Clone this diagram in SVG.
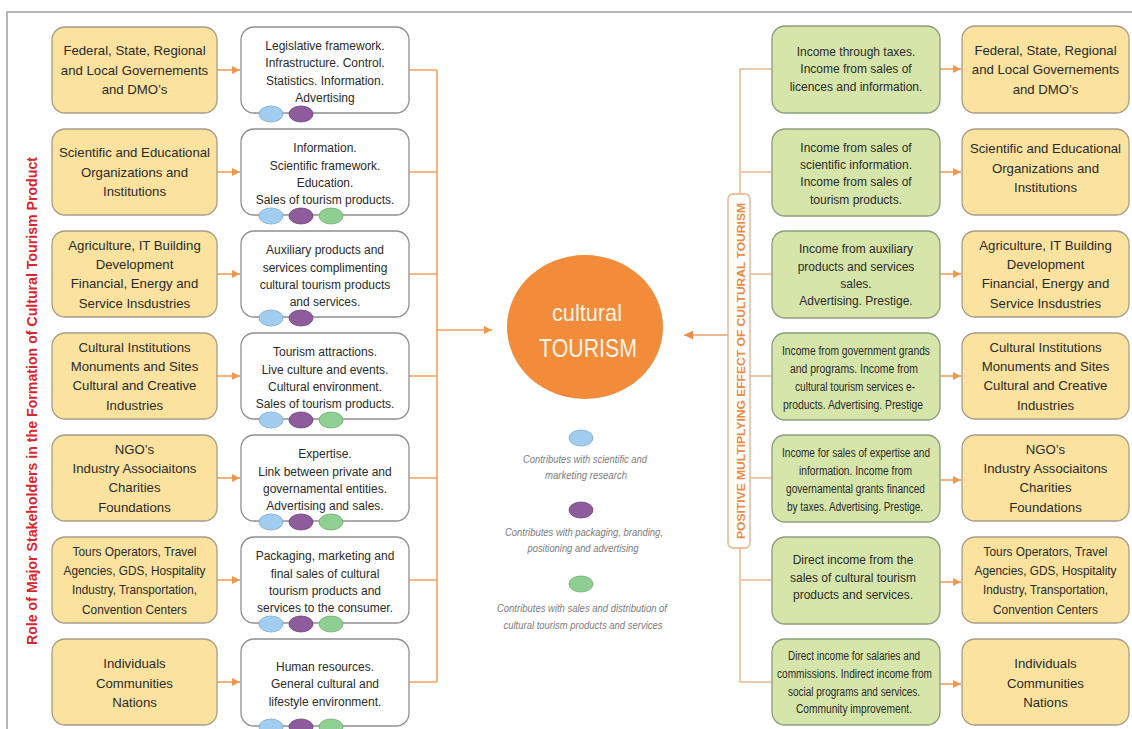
<svg xmlns="http://www.w3.org/2000/svg" width="1132" height="729" viewBox="0 0 1132 729">
  <defs>
    <marker id="arr" viewBox="0 0 10 10" refX="10" refY="5" markerWidth="8" markerHeight="8" markerUnits="userSpaceOnUse" orient="auto">
      <path d="M0,0 L10,5 L0,10 Z" fill="#F0984E"/>
    </marker>
    <marker id="arrL" viewBox="0 0 10 10" refX="10" refY="5" markerWidth="9" markerHeight="9" markerUnits="userSpaceOnUse" orient="auto">
      <path d="M0,0 L10,5 L0,10 Z" fill="#E98E4C"/>
    </marker>
  </defs>
  <style>
    .frame { fill: none; stroke: #A0A0A0; stroke-width: 1.5; }
    .ybox { fill: #FBE29E; stroke: #A89D86; stroke-width: 1.3; }
    .wbox { fill: #FFFFFF; stroke: #8F8F8F; stroke-width: 1.3; }
    .gbox { fill: #D6E5A9; stroke: #8D9B7E; stroke-width: 1.3; }
    .tl { font-family: "Liberation Sans", Arial, sans-serif; font-size: 13.2px; fill: #2A2A2A; text-anchor: middle; }
    .ts { font-family: "Liberation Sans", Arial, sans-serif; font-size: 12px; fill: #2A2A2A; text-anchor: middle; }
    .leg { font-family: "Liberation Sans", Arial, sans-serif; font-size: 11px; font-style: italic; fill: #7C7C7C; text-anchor: middle; }
    .dB { fill: #A2CDEE; stroke: #7FA9CC; stroke-width: 0.8; }
    .dP { fill: #8E5C9C; stroke: #6F4580; stroke-width: 0.8; }
    .dG { fill: #8FCF91; stroke: #6FAE70; stroke-width: 0.8; }
    .lnL { fill: none; stroke: #F2A35E; stroke-width: 1.6; }
    .lnR { fill: none; stroke: #E9B993; stroke-width: 1.5; }
    .ar { fill: none; stroke: #F0A05A; stroke-width: 1.6; marker-end: url(#arr); }
  </style>

  <!-- outer frame -->
  <path class="frame" d="M7,729 L7,12 L1132,12"/>

  <!-- vertical titles -->
  <text transform="translate(37,401) rotate(-90)" text-anchor="middle" font-family="Liberation Sans, Arial, sans-serif" font-size="14" font-weight="bold" fill="#D7262D" textLength="488" lengthAdjust="spacingAndGlyphs">Role of Major Stakeholders in the Formation of Cultural Tourism Product</text>

  <!-- connectors -->
  <g id="connectors">
    <!-- stakeholder -> contribution -->
    <line class="ar" x1="217" y1="70" x2="240" y2="70"/>
    <line class="ar" x1="217" y1="172" x2="240" y2="172"/>
    <line class="ar" x1="217" y1="274" x2="240" y2="274"/>
    <line class="ar" x1="217" y1="376" x2="240" y2="376"/>
    <line class="ar" x1="217" y1="478" x2="240" y2="478"/>
    <line class="ar" x1="217" y1="580" x2="240" y2="580"/>
    <line class="ar" x1="217" y1="682" x2="240" y2="682"/>
    <!-- contributions bus -->
    <path class="lnL" d="M409,70 H437 M409,172 H437 M409,274 H437 M409,376 H437 M409,478 H437 M409,580 H437 M409,682 H437 M437,70 V682"/>
    <line class="ar" x1="437" y1="330" x2="492" y2="330"/>
    <!-- effects bus -->
    <path class="lnR" d="M740,69 V682 M740,69 H772 M740,172 H772 M740,274 H772 M740,376 H772 M740,478 H772 M740,580 H772 M740,682 H772"/>
    <line x1="728" y1="335" x2="684" y2="335" stroke="#E9A070" stroke-width="1.5" marker-end="url(#arrL)"/>
    <!-- income -> beneficiary -->
    <line class="ar" x1="940" y1="69" x2="961" y2="69"/>
    <line class="ar" x1="940" y1="172" x2="961" y2="172"/>
    <line class="ar" x1="940" y1="274" x2="961" y2="274"/>
    <line class="ar" x1="940" y1="376" x2="961" y2="376"/>
    <line class="ar" x1="940" y1="480" x2="961" y2="480"/>
    <line class="ar" x1="940" y1="582" x2="961" y2="582"/>
    <line class="ar" x1="940" y1="684" x2="961" y2="684"/>
  </g>

  <!-- effect label on the right bus -->
  <g id="effect-label">
    <rect x="728" y="194" width="22" height="354" rx="5" fill="#FFFFFF" stroke="#E8AE80" stroke-width="1.3"/>
    <text transform="translate(744.5,371) rotate(-90)" text-anchor="middle" font-family="Liberation Sans, Arial, sans-serif" font-size="11.5" font-weight="bold" fill="#EA8B3E" textLength="336" lengthAdjust="spacingAndGlyphs">POSITIVE MULTIPLYING EFFECT OF CULTURAL TOURISM</text>
  </g>

  <!-- central node -->
  <g id="cultural-tourism">
    <ellipse cx="585" cy="327" rx="78" ry="72" fill="#F28B3A"/>
    <text x="587" y="321" text-anchor="middle" font-family="Liberation Sans, Arial, sans-serif" font-size="24" fill="#FFF4E4" textLength="70" lengthAdjust="spacingAndGlyphs">cultural</text>
    <text x="588" y="357" text-anchor="middle" font-family="Liberation Sans, Arial, sans-serif" font-size="25" fill="#FFF4E4" textLength="98" lengthAdjust="spacingAndGlyphs">TOURISM</text>
  </g>

  <!-- legend -->
  <g id="legend">
    <ellipse class="dB" cx="581" cy="438" rx="12" ry="8"/>
    <text class="leg" x="585" y="462.5" textLength="124" lengthAdjust="spacingAndGlyphs">Contributes with scientific and</text>
    <text class="leg" x="586" y="478.5" textLength="82" lengthAdjust="spacingAndGlyphs">marketing research</text>
    <ellipse class="dP" cx="581" cy="510" rx="12" ry="8"/>
    <text class="leg" x="584" y="535.5" textLength="158" lengthAdjust="spacingAndGlyphs">Contributes with packaging, branding,</text>
    <text class="leg" x="583" y="551.5" textLength="111" lengthAdjust="spacingAndGlyphs">positioning and advertising</text>
    <ellipse class="dG" cx="581" cy="584" rx="12" ry="8"/>
    <text class="leg" x="582" y="611.5" textLength="170" lengthAdjust="spacingAndGlyphs">Contributes with sales and distribution of</text>
    <text class="leg" x="583" y="628.5" textLength="159" lengthAdjust="spacingAndGlyphs">cultural tourism products and services</text>
  </g>

  <!-- stakeholders (left) -->
  <g id="stakeholder-government">
    <rect class="ybox" x="52" y="27" width="165" height="86" rx="13"/>
    <text class="tl" x="134.5" y="55.3">Federal, State, Regional</text>
    <text class="tl" x="134.5" y="74.6">and Local Governements</text>
    <text class="tl" x="134.5" y="93.9">and DMO’s</text>
  </g>
  <g id="stakeholder-science">
    <rect class="ybox" x="52" y="129" width="165" height="86" rx="13"/>
    <text class="tl" x="134.5" y="157.3">Scientific and Educational</text>
    <text class="tl" x="134.5" y="176.6">Organizations and</text>
    <text class="tl" x="134.5" y="195.9">Institutions</text>
  </g>
  <g id="stakeholder-industries">
    <rect class="ybox" x="52" y="231" width="165" height="86" rx="13"/>
    <text class="tl" x="134.5" y="249.6">Agriculture, IT Building</text>
    <text class="tl" x="134.5" y="268.9">Development</text>
    <text class="tl" x="134.5" y="288.2">Financial, Energy and</text>
    <text class="tl" x="134.5" y="307.5">Service Insdustries</text>
  </g>
  <g id="stakeholder-culture">
    <rect class="ybox" x="52" y="333" width="165" height="86" rx="13"/>
    <text class="tl" x="134.5" y="351.6">Cultural Institutions</text>
    <text class="tl" x="134.5" y="370.9">Monuments and Sites</text>
    <text class="tl" x="134.5" y="390.2">Cultural and Creative</text>
    <text class="tl" x="134.5" y="409.5">Industries</text>
  </g>
  <g id="stakeholder-ngo">
    <rect class="ybox" x="52" y="435" width="165" height="86" rx="13"/>
    <text class="tl" x="134.5" y="453.6">NGO’s</text>
    <text class="tl" x="134.5" y="472.9">Industry Associaitons</text>
    <text class="tl" x="134.5" y="492.2">Charities</text>
    <text class="tl" x="134.5" y="511.5">Foundations</text>
  </g>
  <g id="stakeholder-tourism-trade">
    <rect class="ybox" x="52" y="537" width="165" height="86" rx="13"/>
    <text class="tl" x="134.5" y="555.6" textLength="124" lengthAdjust="spacingAndGlyphs">Tours Operators, Travel</text>
    <text class="tl" x="134.5" y="574.9" textLength="142" lengthAdjust="spacingAndGlyphs">Agencies, GDS, Hospitality</text>
    <text class="tl" x="134.5" y="594.2" textLength="125" lengthAdjust="spacingAndGlyphs">Industry, Transportation,</text>
    <text class="tl" x="134.5" y="613.5" textLength="105" lengthAdjust="spacingAndGlyphs">Convention Centers</text>
  </g>
  <g id="stakeholder-people">
    <rect class="ybox" x="52" y="639" width="165" height="86" rx="13"/>
    <text class="tl" x="134.5" y="668.3">Individuals</text>
    <text class="tl" x="134.5" y="687.6">Communities</text>
    <text class="tl" x="134.5" y="706.9">Nations</text>
  </g>

  <!-- contributions (middle) -->
  <g id="contribution-government">
    <rect class="wbox" x="241" y="27" width="168" height="86" rx="13"/>
    <text class="ts" x="325" y="50">Legislative framework.</text>
    <text class="ts" x="325" y="67.4">Infrastructure. Control.</text>
    <text class="ts" x="325" y="84.8">Statistics. Information.</text>
    <text class="ts" x="325" y="102.2">Advertising</text>
    <ellipse class="dB" cx="271" cy="114" rx="12" ry="8"/>
    <ellipse class="dP" cx="301" cy="114" rx="12" ry="8"/>
  </g>
  <g id="contribution-science">
    <rect class="wbox" x="241" y="129" width="168" height="86" rx="13"/>
    <text class="ts" x="325" y="152.1">Information.</text>
    <text class="ts" x="325" y="169.5">Scientific framework.</text>
    <text class="ts" x="325" y="186.9">Education.</text>
    <text class="ts" x="325" y="204.3">Sales of tourism products.</text>
    <ellipse class="dB" cx="271" cy="216" rx="12" ry="8"/>
    <ellipse class="dP" cx="301" cy="216" rx="12" ry="8"/>
    <ellipse class="dG" cx="331" cy="216" rx="12" ry="8"/>
  </g>
  <g id="contribution-industries">
    <rect class="wbox" x="241" y="231" width="168" height="86" rx="13"/>
    <text class="ts" x="325" y="254.1">Auxiliary products and</text>
    <text class="ts" x="325" y="271.5">services complimenting</text>
    <text class="ts" x="325" y="288.9">cultural tourism products</text>
    <text class="ts" x="325" y="306.3">and services.</text>
    <ellipse class="dB" cx="271" cy="318" rx="12" ry="8"/>
    <ellipse class="dP" cx="301" cy="318" rx="12" ry="8"/>
  </g>
  <g id="contribution-culture">
    <rect class="wbox" x="241" y="333" width="168" height="86" rx="13"/>
    <text class="ts" x="325" y="356.1">Tourism attractions.</text>
    <text class="ts" x="325" y="373.5">Live culture and events.</text>
    <text class="ts" x="325" y="390.9">Cultural environment.</text>
    <text class="ts" x="325" y="408.3">Sales of tourism products.</text>
    <ellipse class="dB" cx="271" cy="420" rx="12" ry="8"/>
    <ellipse class="dP" cx="301" cy="420" rx="12" ry="8"/>
    <ellipse class="dG" cx="331" cy="420" rx="12" ry="8"/>
  </g>
  <g id="contribution-ngo">
    <rect class="wbox" x="241" y="435" width="168" height="86" rx="13"/>
    <text class="ts" x="325" y="458.1">Expertise.</text>
    <text class="ts" x="325" y="475.5">Link between private and</text>
    <text class="ts" x="325" y="492.9">governamental entities.</text>
    <text class="ts" x="325" y="510.3">Advertising and sales.</text>
    <ellipse class="dB" cx="271" cy="522" rx="12" ry="8"/>
    <ellipse class="dP" cx="301" cy="522" rx="12" ry="8"/>
    <ellipse class="dG" cx="331" cy="522" rx="12" ry="8"/>
  </g>
  <g id="contribution-tourism-trade">
    <rect class="wbox" x="241" y="537" width="168" height="86" rx="13"/>
    <text class="ts" x="325" y="560.1">Packaging, marketing and</text>
    <text class="ts" x="325" y="577.5">final sales of cultural</text>
    <text class="ts" x="325" y="594.9">tourism products and</text>
    <text class="ts" x="325" y="612.3">services to the consumer.</text>
    <ellipse class="dB" cx="271" cy="624" rx="12" ry="8"/>
    <ellipse class="dP" cx="301" cy="624" rx="12" ry="8"/>
    <ellipse class="dG" cx="331" cy="624" rx="12" ry="8"/>
  </g>
  <g id="contribution-people">
    <rect class="wbox" x="241" y="639" width="168" height="87" rx="13"/>
    <text class="ts" x="325" y="670.8">Human resources.</text>
    <text class="ts" x="325" y="688.2">General cultural and</text>
    <text class="ts" x="325" y="705.6">lifestyle environment.</text>
    <ellipse class="dB" cx="271" cy="727" rx="12" ry="8"/>
    <ellipse class="dP" cx="301" cy="727" rx="12" ry="8"/>
    <ellipse class="dG" cx="331" cy="727" rx="12" ry="8"/>
  </g>

  <!-- income effects (right, green) -->
  <g id="income-government">
    <rect class="gbox" x="772" y="26" width="168" height="87" rx="13"/>
    <text class="ts" x="856" y="56">Income through taxes.</text>
    <text class="ts" x="856" y="73.4">Income from sales of</text>
    <text class="ts" x="856" y="90.8">licences and information.</text>
  </g>
  <g id="income-science">
    <rect class="gbox" x="772" y="129" width="168" height="87" rx="13"/>
    <text class="ts" x="856" y="151.6">Income from sales of</text>
    <text class="ts" x="856" y="169">scientific information.</text>
    <text class="ts" x="856" y="186.4">Income from sales of</text>
    <text class="ts" x="856" y="203.8">tourism products.</text>
  </g>
  <g id="income-industries">
    <rect class="gbox" x="772" y="231" width="168" height="87" rx="13"/>
    <text class="ts" x="856" y="253.1">Income from auxiliary</text>
    <text class="ts" x="856" y="270.5">products and services</text>
    <text class="ts" x="856" y="287.9">sales.</text>
    <text class="ts" x="856" y="305.3">Advertising. Prestige.</text>
  </g>
  <g id="income-culture">
    <rect class="gbox" x="772" y="333" width="168" height="87" rx="13"/>
    <text class="ts" x="856" y="354.5" textLength="148" lengthAdjust="spacingAndGlyphs">Income from government grands</text>
    <text class="ts" x="854" y="372.5" textLength="128" lengthAdjust="spacingAndGlyphs">and programs. Income from</text>
    <text class="ts" x="855" y="391" textLength="120" lengthAdjust="spacingAndGlyphs">cultural tourism services e-</text>
    <text class="ts" x="853" y="408.5" textLength="140" lengthAdjust="spacingAndGlyphs">products. Advertising. Prestige</text>
  </g>
  <g id="income-ngo">
    <rect class="gbox" x="772" y="435" width="168" height="87" rx="13"/>
    <text class="ts" x="856" y="456.5" textLength="148" lengthAdjust="spacingAndGlyphs">Income for sales of expertise and</text>
    <text class="ts" x="855.5" y="474.5" textLength="113" lengthAdjust="spacingAndGlyphs">information. Income from</text>
    <text class="ts" x="855.5" y="492.5" textLength="139" lengthAdjust="spacingAndGlyphs">governamental grants financed</text>
    <text class="ts" x="855" y="510.5" textLength="136" lengthAdjust="spacingAndGlyphs">by taxes. Advertising. Prestige.</text>
  </g>
  <g id="income-tourism-trade">
    <rect class="gbox" x="772" y="537" width="168" height="87" rx="13"/>
    <text class="ts" x="853" y="564.2">Direct income from the</text>
    <text class="ts" x="853" y="581.6">sales of cultural tourism</text>
    <text class="ts" x="853" y="599">products and services.</text>
  </g>
  <g id="income-people">
    <rect class="gbox" x="772" y="639" width="168" height="86" rx="13"/>
    <text class="ts" x="854" y="659.5" textLength="132" lengthAdjust="spacingAndGlyphs">Direct income for salaries and</text>
    <text class="ts" x="854.5" y="677.5" textLength="155" lengthAdjust="spacingAndGlyphs">commissions. Indirect income from</text>
    <text class="ts" x="854" y="695.5" textLength="132" lengthAdjust="spacingAndGlyphs">social programs and services.</text>
    <text class="ts" x="854" y="712.5" textLength="116" lengthAdjust="spacingAndGlyphs">Community improvement.</text>
  </g>

  <!-- beneficiaries (right, yellow) -->
  <g id="beneficiary-government">
    <rect class="ybox" x="962" y="26" width="167" height="87" rx="13"/>
    <text class="tl" x="1045.5" y="55">Federal, State, Regional</text>
    <text class="tl" x="1045.5" y="74.3">and Local Governements</text>
    <text class="tl" x="1045.5" y="93.6">and DMO’s</text>
  </g>
  <g id="beneficiary-science">
    <rect class="ybox" x="962" y="129" width="167" height="86" rx="13"/>
    <text class="tl" x="1045.5" y="153.3">Scientific and Educational</text>
    <text class="tl" x="1045.5" y="172.6">Organizations and</text>
    <text class="tl" x="1045.5" y="191.9">Institutions</text>
  </g>
  <g id="beneficiary-industries">
    <rect class="ybox" x="962" y="231" width="167" height="86" rx="13"/>
    <text class="tl" x="1045.5" y="249.6">Agriculture, IT Building</text>
    <text class="tl" x="1045.5" y="268.9">Development</text>
    <text class="tl" x="1045.5" y="288.2">Financial, Energy and</text>
    <text class="tl" x="1045.5" y="307.5">Service Insdustries</text>
  </g>
  <g id="beneficiary-culture">
    <rect class="ybox" x="962" y="333" width="167" height="86" rx="13"/>
    <text class="tl" x="1045.5" y="351.6">Cultural Institutions</text>
    <text class="tl" x="1045.5" y="370.9">Monuments and Sites</text>
    <text class="tl" x="1045.5" y="390.2">Cultural and Creative</text>
    <text class="tl" x="1045.5" y="409.5">Industries</text>
  </g>
  <g id="beneficiary-ngo">
    <rect class="ybox" x="962" y="435" width="167" height="86" rx="13"/>
    <text class="tl" x="1045.5" y="453.6">NGO’s</text>
    <text class="tl" x="1045.5" y="472.9">Industry Associaitons</text>
    <text class="tl" x="1045.5" y="492.2">Charities</text>
    <text class="tl" x="1045.5" y="511.5">Foundations</text>
  </g>
  <g id="beneficiary-tourism-trade">
    <rect class="ybox" x="962" y="537" width="167" height="86" rx="13"/>
    <text class="tl" x="1045.5" y="555.6" textLength="124" lengthAdjust="spacingAndGlyphs">Tours Operators, Travel</text>
    <text class="tl" x="1045.5" y="574.9" textLength="142" lengthAdjust="spacingAndGlyphs">Agencies, GDS, Hospitality</text>
    <text class="tl" x="1045.5" y="594.2" textLength="125" lengthAdjust="spacingAndGlyphs">Industry, Transportation,</text>
    <text class="tl" x="1045.5" y="613.5" textLength="105" lengthAdjust="spacingAndGlyphs">Convention Centers</text>
  </g>
  <g id="beneficiary-people">
    <rect class="ybox" x="962" y="639" width="167" height="86" rx="13"/>
    <text class="tl" x="1045.5" y="668.3">Individuals</text>
    <text class="tl" x="1045.5" y="687.6">Communities</text>
    <text class="tl" x="1045.5" y="706.9">Nations</text>
  </g>
</svg>
